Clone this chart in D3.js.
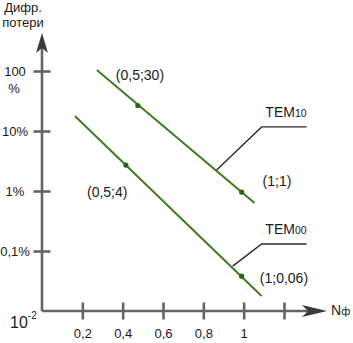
<!DOCTYPE html>
<html><head><meta charset="utf-8">
<script src="https://cdn.jsdelivr.net/npm/d3@7"></script>
<style>
body{margin:0;background:#fff;}
text{font-family:"Liberation Sans",Arial,sans-serif;fill:#1a1a1a;}
</style></head>
<body><svg id="c" width="353" height="343"></svg>
<script>
// ---- data ----
const xTicks = [0.2, 0.4, 0.6, 0.8, 1, 1.2];
const xTickLabels = ["0,2", "0,4", "0,6", "0,8", "1", ""];
const yTicks = [100, 10, 1, 0.1];
const yTickLabels = ["100", "10%", "1%", "0,1%"];
const tem10Line = [[0.272, 104], [1.054, 0.63]];
const tem10Points = [[0.475, 26.6], [0.99, 0.96]];
const tem00Line = [[0.163, 17.8], [1.089, 0.0178]];
const tem00Points = [[0.416, 2.7], [0.99, 0.038]];
const pointLabels = [
  {t: "(0,5;30)", x: 0.366, y: 71},
  {t: "(0,5;4)", x: 0.223, y: 0.79},
  {t: "(1;1)", x: 1.094, y: 1.21},
  {t: "(1;0,06)", x: 1.08, y: 0.0293}
];
const leaders = [
  {name: "TEM", sub: "10", pts: [[0.866, 2.24], [1.089, 11.7], [1.312, 11.7]]},
  {name: "TEM", sub: "00", pts: [[0.946, 0.056], [1.089, 0.131], [1.312, 0.131]]}
];

const svg = d3.select("#c");
const x = d3.scaleLinear().domain([0, 1.2]).range([42, 284]);
const y = d3.scaleLog().domain([0.01, 100]).range([311, 71]);
const axisCol = "#656565", arrowCol = "#3a3a3a";
const green = "#3d7c1f", dotCol = "#2b6410";

// axes lines
const x0 = x(0), y0 = y(0.01);
svg.append("line").attr("x1", x0).attr("y1", y0).attr("x2", x0).attr("y2", 48)
  .attr("stroke", axisCol).attr("stroke-width", 2.6);
svg.append("line").attr("x1", x0).attr("y1", y0).attr("x2", 312).attr("y2", y0)
  .attr("stroke", axisCol).attr("stroke-width", 2.6);
// arrow heads
svg.append("path").attr("d", `M${x0},33 L${x0+6},53 L${x0},48 L${x0-6},53 Z`).attr("fill", arrowCol);
svg.append("path").attr("d", `M327,${y0} L302,${y0-6} L308,${y0} L302,${y0+6} Z`).attr("fill", arrowCol);

// x axis ticks via d3 axis
const gx = svg.append("g").attr("transform", `translate(0,${y0})`)
  .call(d3.axisBottom(x).tickValues(xTicks).tickSize(0).tickFormat((d, i) => xTickLabels[i]));
gx.select(".domain").remove();
gx.selectAll(".tick line").attr("y1", -8.5).attr("y2", 8.5).attr("stroke", axisCol).attr("stroke-width", 2.6);
gx.selectAll(".tick text").attr("y", 27).attr("dy", 0).attr("font-size", 13)
  .attr("font-family", "Liberation Sans, Arial, sans-serif").attr("fill", "#1a1a1a");

// y axis ticks via d3 axis
const gy = svg.append("g").attr("transform", `translate(${x0},0)`)
  .call(d3.axisLeft(y).tickValues(yTicks).tickSize(0).tickFormat((d, i) => yTickLabels[i]));
gy.select(".domain").remove();
gy.selectAll(".tick line").attr("x1", -8.5).attr("x2", 8.5).attr("stroke", axisCol).attr("stroke-width", 2.6);
gy.selectAll(".tick text").attr("x", -27).attr("text-anchor", "middle").attr("dy", "0.36em")
  .attr("font-size", 13).attr("font-family", "Liberation Sans, Arial, sans-serif").attr("fill", "#1a1a1a");
// "%" under 100
gy.selectAll(".tick").filter(d => d === 100).append("text").attr("x", -28).attr("y", 17).attr("dy", "0.36em")
  .attr("text-anchor", "middle").attr("font-size", 13).attr("fill", "#1a1a1a").text("%");

// 10^-2 label
const lab = svg.append("text").attr("x", 10).attr("y", y0 + 17).attr("font-size", 16);
lab.append("tspan").text("10");
lab.append("tspan").attr("dy", -9).attr("font-size", 10).text("-2");

// axis titles
svg.append("text").attr("x", 23).attr("y", 12).attr("text-anchor", "middle").attr("font-size", 13).text("Дифр.");
svg.append("text").attr("x", 23).attr("y", 27).attr("text-anchor", "middle").attr("font-size", 13).text("потери");
const nf = svg.append("text").attr("x", 331).attr("y", y0 + 4).attr("font-size", 14);
nf.append("tspan").text("N");
nf.append("tspan").attr("font-size", 11).text("ф");

// lines
const line = d3.line().x(d => x(d[0])).y(d => y(d[1]));
[tem10Line, tem00Line].forEach(l => svg.append("path").attr("d", line(l))
  .attr("fill", "none").attr("stroke", green).attr("stroke-width", 2));
svg.selectAll("circle.p").data(tem10Points.concat(tem00Points)).join("circle")
  .attr("cx", d => x(d[0])).attr("cy", d => y(d[1])).attr("r", 2.6).attr("fill", dotCol);

// leader lines
leaders.forEach(L => {
  svg.append("path").attr("d", line(L.pts)).attr("fill", "none").attr("stroke", "#2a2a2a").attr("stroke-width", 1.4);
  const t = svg.append("text").attr("x", x(L.pts[2][0])).attr("y", y(L.pts[2][1]) - 10)
    .attr("text-anchor", "end").attr("font-size", 14);
  t.append("tspan").text(L.name);
  t.append("tspan").attr("font-size", 10.5).text(L.sub);
});

// point labels
svg.selectAll("text.pl").data(pointLabels).join("text")
  .attr("x", d => x(d.x)).attr("y", d => y(d.y)).attr("font-size", 14).text(d => d.t);
</script></body></html>
